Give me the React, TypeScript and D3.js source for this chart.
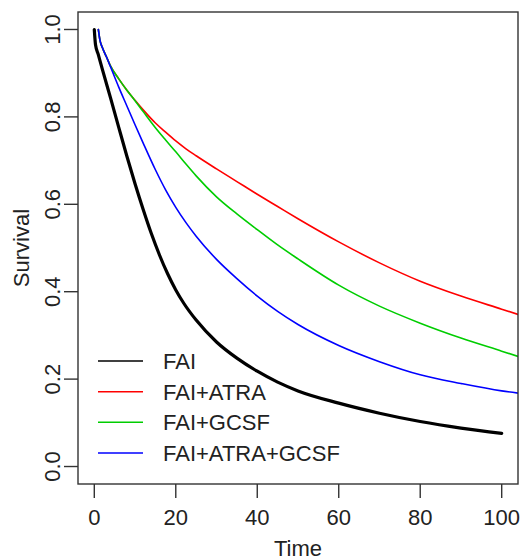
import React from "react";
import * as d3 from "d3";

const FAI_TIME = [0, 0.3, 1, 2, 4, 6, 8, 10, 12, 14, 16, 18, 20, 22, 25, 30, 35, 40, 45, 50, 60, 70, 80, 90, 100];
const FAI = [1.0, 0.965, 0.942, 0.908, 0.843, 0.776, 0.71, 0.647, 0.588, 0.533, 0.484, 0.441, 0.404, 0.373, 0.335, 0.285, 0.248, 0.218, 0.193, 0.173, 0.145, 0.122, 0.103, 0.088, 0.076];

const COMBO_TIME = [1, 1.4, 2, 3, 4, 6, 8, 10, 12, 15, 17.5, 20, 22.5, 25, 30, 35, 40, 45, 50, 60, 70, 80, 90, 100, 104];
const FAI_ATRA = [1.0, 0.975, 0.958, 0.937, 0.916, 0.887, 0.861, 0.838, 0.816, 0.786, 0.765, 0.745, 0.727, 0.711, 0.681, 0.652, 0.623, 0.595, 0.567, 0.514, 0.466, 0.424, 0.39, 0.36, 0.348];
const FAI_GCSF = [1.0, 0.975, 0.958, 0.937, 0.916, 0.887, 0.861, 0.837, 0.812, 0.775, 0.747, 0.72, 0.692, 0.665, 0.617, 0.578, 0.542, 0.507, 0.475, 0.415, 0.367, 0.328, 0.294, 0.264, 0.252];
const FAI_ATRA_GCSF = [1.0, 0.975, 0.958, 0.937, 0.914, 0.868, 0.825, 0.782, 0.74, 0.679, 0.633, 0.593, 0.558, 0.527, 0.474, 0.43, 0.39, 0.355, 0.325, 0.277, 0.24, 0.21, 0.19, 0.173, 0.168];

const SERIES_NAMES = ["FAI", "FAI+ATRA", "FAI+GCSF", "FAI+ATRA+GCSF"];
const SERIES_COLORS = ["#000000", "#FF0000", "#00CD00", "#0000FF"];
const X_TICKS = [0, 20, 40, 60, 80, 100];
const Y_TICKS = [0, 0.2, 0.4, 0.6, 0.8, 1.0];

const W = 522;
const H = 560;
const L = 78, R = 518, T = 12, B = 484;
const FONT = "'Liberation Sans', Arial, Helvetica, sans-serif";

export default function App() {
  const x = d3.scaleLinear().domain([-4, 104]).range([L, R]);
  const y = d3.scaleLinear().domain([-0.04, 1.04]).range([B, T]);

  const line = d3
    .line<[number, number]>()
    .x((d) => x(d[0]))
    .y((d) => y(d[1]))
    .curve(d3.curveMonotoneX);

  const series = [
    { name: SERIES_NAMES[0], t: FAI_TIME, v: FAI, color: SERIES_COLORS[0], w: 3.2 },
    { name: SERIES_NAMES[1], t: COMBO_TIME, v: FAI_ATRA, color: SERIES_COLORS[1], w: 1.6 },
    { name: SERIES_NAMES[2], t: COMBO_TIME, v: FAI_GCSF, color: SERIES_COLORS[2], w: 1.6 },
    { name: SERIES_NAMES[3], t: COMBO_TIME, v: FAI_ATRA_GCSF, color: SERIES_COLORS[3], w: 1.6 },
  ];

  const legendY = [361, 391.7, 422.3, 453];

  return (
    <svg
      width={W}
      height={H}
      style={{ position: "absolute", left: 0, top: 0, background: "#fff" }}
      fontFamily={FONT}
    >
      <defs>
        <clipPath id="plotclip">
          <rect x={L} y={T} width={R - L} height={B - T} />
        </clipPath>
      </defs>
      <g clipPath="url(#plotclip)">
        {series.map((s) => (
          <path
            key={s.name}
            d={line(s.t.map((t, i) => [t, s.v[i]] as [number, number])) || ""}
            fill="none"
            stroke={s.color}
            strokeWidth={s.w}
            strokeLinejoin="round"
            strokeLinecap="round"
          />
        ))}
      </g>
      <rect x={L} y={T} width={R - L} height={B - T} fill="none" stroke="#333" strokeWidth={1.4} />
      {X_TICKS.map((t) => (
        <g key={"x" + t}>
          <line x1={x(t)} x2={x(t)} y1={B} y2={B + 14} stroke="#333" strokeWidth={1.4} />
          <text x={x(t)} y={525} textAnchor="middle" fontSize={22} fill="#222">
            {t}
          </text>
        </g>
      ))}
      {Y_TICKS.map((t) => (
        <g key={"y" + t}>
          <line x1={L - 14} x2={L} y1={y(t)} y2={y(t)} stroke="#333" strokeWidth={1.4} />
          <text
            transform={`translate(60,${y(t)}) rotate(-90)`}
            textAnchor="middle"
            fontSize={22}
            fill="#222"
          >
            {t.toFixed(1)}
          </text>
        </g>
      ))}
      <text x={(L + R) / 2} y={556} textAnchor="middle" fontSize={22} fill="#222">
        Time
      </text>
      <text
        transform={`translate(29,${(T + B) / 2}) rotate(-90)`}
        textAnchor="middle"
        fontSize={22}
        fill="#222"
      >
        Survival
      </text>
      {series.map((s, i) => (
        <g key={"lg" + s.name}>
          <line x1={98} x2={143} y1={legendY[i]} y2={legendY[i]} stroke={s.color} strokeWidth={1.6} />
          <text x={163} y={legendY[i] + 8} fontSize={22} fill="#222">
            {s.name}
          </text>
        </g>
      ))}
    </svg>
  );
}
